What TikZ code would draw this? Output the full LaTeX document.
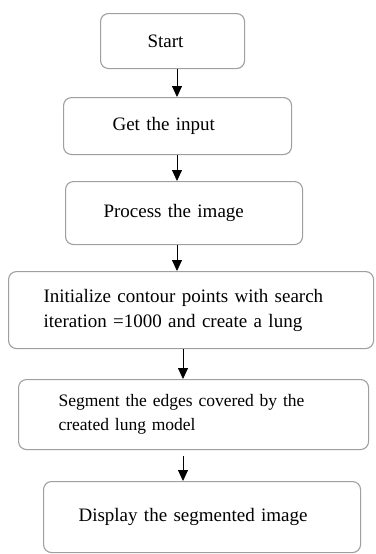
\documentclass[tikz,border=0pt]{standalone}
\usepackage{fontspec}
\setmainfont{Liberation Serif}
\usetikzlibrary{positioning, arrows.meta}

\begin{document}
\begin{tikzpicture}[
  x=1pt, y=1pt,
  stage/.style={rectangle, draw=gray!75, line width=1.1pt, rounded corners=8pt, anchor=north west, align=left, inner ysep=0pt, font=\fontsize{19}{25}\selectfont},
  arr/.style={-{Triangle[length=11pt, width=10pt]}, line width=0.8pt}
]
  \useasboundingbox (0,0) rectangle (375,-554);
  \node[stage, minimum width=144, minimum height=55, inner xsep=47, text width=50] (start) at (100,-13) {Start};
  \node[stage, minimum width=228, minimum height=57, inner xsep=49, text width=130] (input) at (63,-97) {Get the input};
  \node[stage, minimum width=237, minimum height=63, inner xsep=38, text width=161] (proc) at (65,-181) {Process the image};
  \node[stage, minimum width=365, minimum height=77, inner xsep=35, text width=295] (init) at (8,-271) {Initialize contour points with search\\iteration =1000 and create a lung};
  \node[stage, minimum width=350, minimum height=70, inner xsep=40, text width=270, font=\fontsize{17.5}{24}\selectfont] (seg) at (18,-379) {Segment the edges covered by the\\created lung model};
  \node[stage, minimum width=317, minimum height=71, inner xsep=35, text width=247] (disp) at (43,-481) {Display the segmented image};
  % arrow columns
  \coordinate (ax1) at (177,0);
  \coordinate (ax2) at (183,0);
  \draw[arr] (start.south -| ax1) -- (input.north -| ax1);
  \draw[arr] (input.south -| ax1) -- (proc.north -| ax1);
  \draw[arr] (proc.south -| ax1) -- (init.north -| ax1);
  \draw[arr] (init.south -| ax2) -- (seg.north -| ax2);
  \draw[arr, shorten <=6pt] (seg.south -| ax2) -- (disp.north -| ax2);
\end{tikzpicture}
\end{document}
